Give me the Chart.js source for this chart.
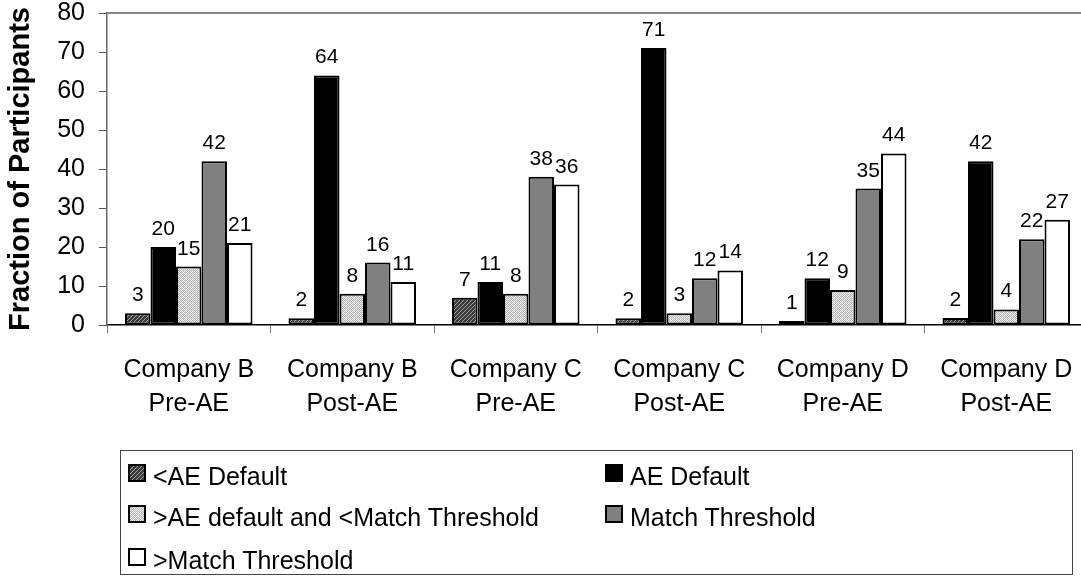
<!DOCTYPE html>
<html>
<head>
<meta charset="utf-8">
<title>Fraction of Participants</title>
<script src="https://cdn.jsdelivr.net/npm/chart.js@4.4.1/dist/chart.umd.min.js"></script>
<style>
  html, body { margin: 0; padding: 0; background: #fff; overflow: hidden; }
  #wrap { position: relative; width: 1081px; height: 577px; overflow: hidden; }
  #legend {
    position: absolute; left: 120px; top: 450px; width: 953px; height: 125px;
    border: 1px solid #444; box-sizing: border-box;
    font: 25px "Liberation Sans", Arial, sans-serif; color: #000;
  }
  .item { position: absolute; display: flex; align-items: center; height: 30px; white-space: nowrap; }
  .item canvas { width: 18px; height: 18px; margin-right: 7px; position: relative; top: -3px; }
</style>
</head>
<body>
<div id="wrap">
  <!-- plot runs slightly past the right edge, as in the original -->
  <canvas id="chart" width="1088" height="577"></canvas>
  <div id="legend"></div>
</div>
<script>
// ── Data ─────────────────────────────
const categories = [
  ['Company B', 'Pre-AE'], ['Company B', 'Post-AE'],
  ['Company C', 'Pre-AE'], ['Company C', 'Post-AE'],
  ['Company D', 'Pre-AE'], ['Company D', 'Post-AE']
];
const seriesNames = ['<AE Default', 'AE Default', '>AE default and <Match Threshold', 'Match Threshold', '>Match Threshold'];
const belowDefault  = [3, 1.7, 7, 1.7, 1, 1.8];
const atDefault     = [20, 64, 11, 71, 12, 42];
const betweenMatch  = [15, 8, 8, 3, 9, 4];
const atMatch       = [42, 16, 38, 12, 35, 22];
const aboveMatch    = [21, 11, 36, 14, 44, 27];
const yTicks = [0, 10, 20, 30, 40, 50, 60, 70, 80];

const fontFamily = '"Liberation Sans", Arial, sans-serif';

// ── Fill patterns ────────────────────
function makeHatch() {
  const c = document.createElement('canvas');
  c.width = 4; c.height = 4;
  const g = c.getContext('2d');
  g.fillStyle = '#3a3a3a';
  g.fillRect(0, 0, 4, 4);
  g.fillStyle = '#a0a0a0';
  for (let i = 0; i < 4; i++) g.fillRect(i, 3 - i, 1, 1);
  return c;
}
function makeDots() {
  const c = document.createElement('canvas');
  c.width = 4; c.height = 4;
  const g = c.getContext('2d');
  g.fillStyle = '#f4f4f4';
  g.fillRect(0, 0, 4, 4);
  g.fillStyle = '#b4b4b4';
  g.fillRect(0, 0, 1, 1); g.fillRect(2, 0, 1, 1);
  g.fillRect(1, 1, 1, 1); g.fillRect(3, 1, 1, 1);
  g.fillRect(0, 2, 1, 1); g.fillRect(2, 2, 1, 1);
  g.fillRect(1, 3, 1, 1); g.fillRect(3, 3, 1, 1);
  g.fillStyle = '#dcdcdc';
  g.fillRect(1, 0, 1, 1); g.fillRect(3, 2, 1, 1);
  return c;
}

const ctx = document.getElementById('chart').getContext('2d');
const hatchTile = makeHatch();
const dotTile = makeDots();
const fills = [
  ctx.createPattern(hatchTile, 'repeat'),
  '#000000',
  ctx.createPattern(dotTile, 'repeat'),
  '#808080',
  '#ffffff'
];
const seriesValues = [belowDefault, atDefault, betweenMatch, atMatch, aboveMatch];

// ── Plugins ──────────────────────────
const frameLines = {
  id: 'frameLines',
  afterDraw(chart) {
    const { ctx, chartArea: a } = chart;
    ctx.save();
    ctx.strokeStyle = '#888';
    ctx.lineWidth = 2;
    ctx.beginPath();
    ctx.moveTo(a.left, a.top);
    ctx.lineTo(chart.width, a.top);
    ctx.stroke();
    ctx.restore();
  }
};

const valueLabels = {
  id: 'valueLabels',
  afterDatasetsDraw(chart) {
    const { ctx } = chart;
    ctx.save();
    ctx.font = '21px ' + fontFamily;
    ctx.fillStyle = '#000';
    ctx.textAlign = 'center';
    ctx.textBaseline = 'alphabetic';
    chart.data.datasets.forEach((ds, i) => {
      chart.getDatasetMeta(i).data.forEach((bar, j) => {
        ctx.fillText(String(Math.round(ds.data[j])), bar.x, bar.y - 12);
      });
    });
    ctx.restore();
  }
};

// ── Chart ────────────────────────────
const chart = new Chart(ctx, {
  type: 'bar',
  data: {
    labels: categories,
    datasets: seriesNames.map((name, i) => ({
      label: name,
      data: seriesValues[i],
      backgroundColor: fills[i],
      borderColor: '#000',
      borderWidth: 2,
      borderSkipped: false,
      categoryPercentage: 0.78,
      barPercentage: 1.0
    }))
  },
  options: {
    responsive: false,
    animation: false,
    layout: { padding: 0 },
    plugins: {
      legend: { display: false },
      tooltip: { enabled: false }
    },
    scales: {
      x: {
        afterFit: s => { s.height = 252; s.paddingLeft = 0; s.paddingRight = 0; },
        grid: { drawOnChartArea: false, drawTicks: true, tickLength: 8, color: '#777', offset: true },
        border: { color: '#000', width: 1.5 },
        ticks: { color: '#000', padding: 20, font: { family: fontFamily, size: 25, lineHeight: 1.36 }, maxRotation: 0 }
      },
      y: {
        min: 0,
        max: 80,
        afterFit: s => { s.width = 107; s.paddingTop = 13; s.paddingBottom = 0; },
        afterBuildTicks: s => { s.ticks = yTicks.map(v => ({ value: v })); },
        grid: { drawOnChartArea: false, drawTicks: true, tickLength: 8, color: '#555' },
        border: { color: '#666', width: 1.5 },
        ticks: { color: '#000', padding: 14, font: { family: fontFamily, size: 25, lineHeight: 1.04 } },
        title: {
          display: true,
          text: 'Fraction of Participants',
          color: '#000',
          padding: { top: 4, bottom: 0 },
          font: { family: fontFamily, size: 29, weight: 'bold', lineHeight: 1.2 }
        }
      }
    }
  },
  plugins: [frameLines, valueLabels]
});

// ── Legend (two columns, three rows) ─
const legend = document.getElementById('legend');
const slots = [[7, 10], [484, 10], [7, 51], [484, 51], [7, 94]];
seriesNames.forEach((name, i) => {
  const item = document.createElement('div');
  item.className = 'item';
  item.style.left = slots[i][0] + 'px';
  item.style.top = slots[i][1] + 'px';
  const sw = document.createElement('canvas');
  sw.width = 18; sw.height = 18;
  const g = sw.getContext('2d');
  if (i === 0) g.fillStyle = g.createPattern(hatchTile, 'repeat');
  else if (i === 2) g.fillStyle = g.createPattern(dotTile, 'repeat');
  else g.fillStyle = fills[i];
  g.fillRect(0, 0, 18, 18);
  g.strokeStyle = '#000';
  g.lineWidth = 2;
  g.strokeRect(1, 1, 16, 16);
  const txt = document.createElement('span');
  txt.textContent = name;
  item.appendChild(sw);
  item.appendChild(txt);
  legend.appendChild(item);
});
</script>
</body>
</html>
